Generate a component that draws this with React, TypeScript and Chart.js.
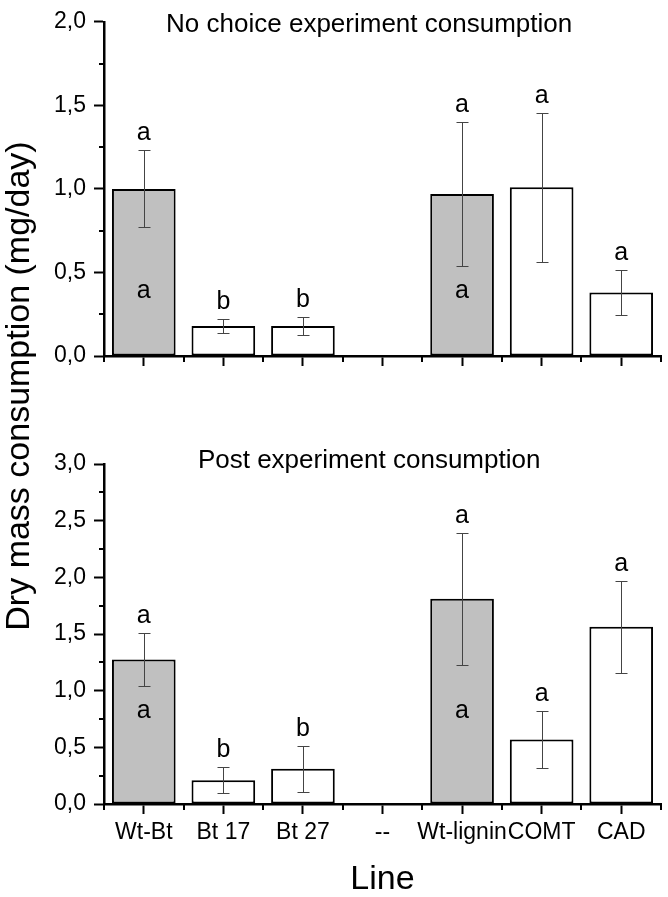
import React, { useEffect, useRef } from 'react';
import { Chart, registerables } from 'chart.js';

Chart.register(...registerables);

// ---------- data ----------
const categories = ['Wt-Bt', 'Bt 17', 'Bt 27', '--', 'Wt-lignin', 'COMT', 'CAD'];

const noChoiceMeans = [1.0, 0.18, 0.18, null, 0.97, 1.01, 0.38];
const noChoiceErrors = [0.23, 0.04, 0.055, null, 0.43, 0.445, 0.133];
const noChoiceLettersAbove = ['a', 'b', 'b', '', 'a', 'a', 'a'];
const noChoiceLettersInside = ['a', '', '', '', 'a', '', ''];

const postMeans = [1.275, 0.21, 0.31, null, 1.81, 0.57, 1.565];
const postErrors = [0.235, 0.117, 0.203, null, 0.58, 0.253, 0.406];
const postLettersAbove = ['a', 'b', 'b', '', 'a', 'a', 'a'];
const postLettersInside = ['a', '', '', '', 'a', '', ''];

const barFills = ['#c0c0c0', '#ffffff', '#ffffff', '#ffffff', '#c0c0c0', '#ffffff', '#ffffff'];

const noChoiceTitle = 'No choice experiment consumption';
const postTitle = 'Post experiment consumption';
const yAxisTitle = 'Dry mass consumption (mg/day)';
const xAxisTitle = 'Line';

// ---------- layout / style ----------
const W = 668;
const H = 897;
const FONT = '"Liberation Sans", Arial, Helvetica, sans-serif';

const fmt = (v: number) => v.toFixed(1).replace('.', ',');

type PanelCfg = {
  key: string;
  means: (number | null)[];
  errors: (number | null)[];
  above: string[];
  inside: string[];
  insideAt: number;
  title: string;
  titleOffset: number;
  drawYTitle: boolean;
};

function decorPlugin(cfg: PanelCfg) {
  return {
    id: 'decor_' + cfg.key,
    afterDraw(chart: any) {
      const ctx = chart.ctx as CanvasRenderingContext2D;
      const x = chart.scales.x;
      const y = chart.scales.y;
      const meta = chart.getDatasetMeta(0);
      ctx.save();
      // minor ticks
      ctx.strokeStyle = '#000';
      ctx.lineWidth = 2;
      for (let v = 0.25; v < y.max; v += 0.5) {
        const py = Math.round(y.getPixelForValue(v));
        ctx.beginPath();
        ctx.moveTo(y.right - 5, py);
        ctx.lineTo(y.right, py);
        ctx.stroke();
      }
      for (let i = 0; i <= categories.length; i++) {
        const px = Math.round(x.getPixelForValue(i - 0.5));
        ctx.beginPath();
        ctx.moveTo(px, x.top);
        ctx.lineTo(px, x.top + 6);
        ctx.stroke();
      }
      // error bars
      ctx.strokeStyle = '#444';
      ctx.lineWidth = 1;
      meta.data.forEach((bar: any, i: number) => {
        const m = cfg.means[i];
        const e = cfg.errors[i];
        if (m == null || e == null) return;
        const cx = Math.round(bar.x) + 0.5;
        const yt = Math.round(y.getPixelForValue(m + e)) + 0.5;
        const yb = Math.round(y.getPixelForValue(m - e)) + 0.5;
        ctx.beginPath();
        ctx.moveTo(cx, yt);
        ctx.lineTo(cx, yb);
        ctx.moveTo(cx - 6, yt);
        ctx.lineTo(cx + 6, yt);
        ctx.moveTo(cx - 6, yb);
        ctx.lineTo(cx + 6, yb);
        ctx.stroke();
      });
      // letters
      ctx.fillStyle = '#000';
      ctx.font = `25px ${FONT}`;
      ctx.textAlign = 'center';
      ctx.textBaseline = 'alphabetic';
      meta.data.forEach((bar: any, i: number) => {
        const m = cfg.means[i];
        const e = cfg.errors[i];
        if (m == null) return;
        if (cfg.above[i]) {
          ctx.fillText(cfg.above[i], bar.x, y.getPixelForValue(m + (e || 0)) - 10);
        }
        if (cfg.inside[i]) {
          ctx.fillText(cfg.inside[i], bar.x, y.getPixelForValue(cfg.insideAt));
        }
      });
      // panel title
      ctx.font = `26px ${FONT}`;
      ctx.fillText(cfg.title, x.left + (x.right - x.left) * 0.476, y.top + cfg.titleOffset);
      // shared y-axis title
      if (cfg.drawYTitle) {
        ctx.translate(19.5, 386);
        ctx.rotate(-Math.PI / 2);
        ctx.font = `34px ${FONT}`;
        ctx.textBaseline = 'middle';
        ctx.fillText(yAxisTitle, 0, 0);
      }
      ctx.restore();
    },
  };
}

function makeConfig(opts: {
  means: (number | null)[];
  yMax: number;
  padTop: number;
  plotBottom: number;
  showLabels: boolean;
  plugin: any;
}) {
  return {
    type: 'bar' as const,
    data: {
      labels: categories,
      datasets: [
        {
          data: opts.means,
          backgroundColor: barFills,
          borderColor: '#000',
          borderWidth: 2,
          borderSkipped: false,
          barPercentage: 0.8,
          categoryPercentage: 1.0,
        },
      ],
    },
    options: {
      responsive: false,
      animation: false,
      events: [],
      layout: { padding: { left: 0, right: 7, top: opts.padTop, bottom: 0 } },
      plugins: { legend: { display: false }, tooltip: { enabled: false }, title: { display: false } },
      scales: {
        x: {
          type: 'category',
          offset: true,
          afterFit: (s: any) => {
            s.height = H - opts.plotBottom;
          },
          grid: {
            display: true,
            offset: false,
            drawOnChartArea: false,
            drawTicks: true,
            tickLength: 10,
            tickWidth: 2,
            tickColor: '#000',
          },
          border: { display: true, color: '#000', width: 2.5 },
          ticks: {
            display: opts.showLabels,
            autoSkip: false,
            maxRotation: 0,
            minRotation: 0,
            padding: 5,
            color: '#000',
            font: { family: FONT, size: 23 },
          },
          title: {
            display: opts.showLabels,
            text: xAxisTitle,
            color: '#000',
            font: { family: FONT, size: 34, lineHeight: 1 },
            padding: { top: 0, bottom: 0 },
          },
        },
        y: {
          min: 0,
          max: opts.yMax,
          afterFit: (s: any) => {
            s.width = 104;
          },
          grid: {
            display: true,
            drawOnChartArea: false,
            drawTicks: true,
            tickLength: 10,
            tickWidth: 2,
            tickColor: '#000',
          },
          border: { display: true, color: '#000', width: 2.5 },
          ticks: {
            stepSize: 0.5,
            padding: 8,
            color: '#000',
            font: { family: FONT, size: 23 },
            callback: (v: any) => fmt(Number(v)),
          },
        },
      },
    },
    plugins: [opts.plugin],
  };
}

export default function App() {
  const topRef = useRef<HTMLCanvasElement | null>(null);
  const botRef = useRef<HTMLCanvasElement | null>(null);

  useEffect(() => {
    if (!topRef.current || !botRef.current) return;
    const top = new Chart(
      topRef.current,
      makeConfig({
        means: noChoiceMeans,
        yMax: 2,
        padTop: 15,
        plotBottom: 356,
        showLabels: false,
        plugin: decorPlugin({
          key: 'top',
          means: noChoiceMeans,
          errors: noChoiceErrors,
          above: noChoiceLettersAbove,
          inside: noChoiceLettersInside,
          insideAt: 0.35,
          title: noChoiceTitle,
          titleOffset: 10,
          drawYTitle: false,
        }),
      }) as any
    );
    const bot = new Chart(
      botRef.current,
      makeConfig({
        means: postMeans,
        yMax: 3,
        padTop: 464,
        plotBottom: 804,
        showLabels: true,
        plugin: decorPlugin({
          key: 'bot',
          means: postMeans,
          errors: postErrors,
          above: postLettersAbove,
          inside: postLettersInside,
          insideAt: 0.76,
          title: postTitle,
          titleOffset: 4,
          drawYTitle: true,
        }),
      }) as any
    );
    return () => {
      top.destroy();
      bot.destroy();
    };
  }, []);

  const canvasStyle: React.CSSProperties = { position: 'absolute', left: 0, top: 0, width: W, height: H };
  return (
    <div style={{ position: 'absolute', left: 0, top: 0, width: W, height: H, background: '#fff' }}>
      <canvas ref={topRef} width={W} height={H} style={canvasStyle} />
      <canvas ref={botRef} width={W} height={H} style={canvasStyle} />
    </div>
  );
}
